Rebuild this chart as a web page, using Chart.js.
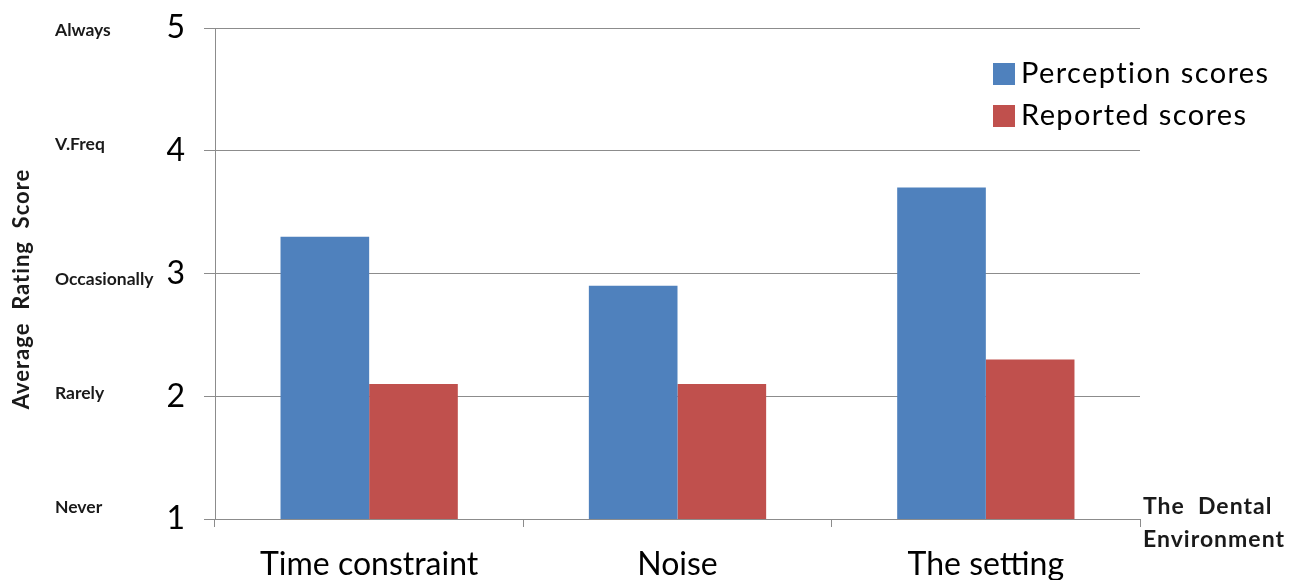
<!DOCTYPE html>
<html>
<head>
<meta charset="utf-8">
<title>The Dental Environment</title>
<script src="https://cdn.jsdelivr.net/npm/chart.js@4/dist/chart.umd.min.js"></script>
<style>
  html, body { margin: 0; padding: 0; background: #fff; }
  #wrap { width: 1303px; height: 580px; position: relative; }
</style>
</head>
<body>
<div id="wrap"><canvas id="c"></canvas></div>
<script>
// Categories and series
const categories = ['Time constraint', 'Noise', 'The setting'];
const perceptionScores = [3.3, 2.9, 3.7];
const reportedScores = [2.1, 2.1, 2.3];

// Rating scale: numeric ticks and their verbal meaning
const ratingTicks = [1, 2, 3, 4, 5];
const ratingWords = ['Never', 'Rarely', 'Occasionally', 'V.Freq', 'Always'];

const yTitle = 'Average  Rating  Score';
const xTitleLines = ['The  Dental', 'Environment'];

const BLUE = '#4F81BD';
const RED = '#C0504D';
const GRID = '#8C8C8C';
const FONT = 'Lato, "Open Sans", "DejaVu Sans", sans-serif';

// Extra labelling: rating words, rotated y title, x title and legend
const annotations = {
  id: 'annotations',
  afterDraw(chart) {
    const ctx = chart.ctx;
    const y = chart.scales.y;
    ctx.save();
    ctx.fillStyle = '#1a1a1a';

    // verbal rating labels beside the numeric ticks
    const nudges = [-12, -3, 6, -6, 2];
    ctx.font = 'bold 17.5px ' + FONT;
    ctx.textAlign = 'left';
    ctx.textBaseline = 'middle';
    ratingTicks.forEach((v, i) => {
      ctx.fillText(ratingWords[i], 55, y.getPixelForValue(v) + nudges[i]);
    });

    // rotated y axis title
    ctx.save();
    ctx.translate(22, 289);
    ctx.rotate(-Math.PI / 2);
    ctx.textAlign = 'center';
    ctx.font = 'bold 22px ' + FONT;
    ctx.letterSpacing = '1px';
    ctx.fillText(yTitle, 0, 0);
    ctx.restore();

    // x axis title to the right of the plot
    ctx.font = 'bold 23px ' + FONT;
    ctx.letterSpacing = '1px';
    ctx.textAlign = 'left';
    ctx.fillText(xTitleLines[0], 1143, 507);
    ctx.fillText(xTitleLines[1], 1143, 540);

    // legend
    ctx.font = '29px ' + FONT;
    ctx.letterSpacing = '1.4px';
    chart.data.datasets.forEach((ds, i) => {
      const cy = 74 + i * 42;
      ctx.fillStyle = ds.backgroundColor;
      ctx.fillRect(993, cy - 11, 22, 22);
      ctx.fillStyle = '#000';
      ctx.fillText(ds.label, 1021, cy);
    });
    ctx.restore();
  }
};

new Chart(document.getElementById('c'), {
  type: 'bar',
  data: {
    labels: categories,
    datasets: [
      { label: 'Perception scores', data: perceptionScores, backgroundColor: BLUE },
      { label: 'Reported scores', data: reportedScores, backgroundColor: RED }
    ]
  },
  options: {
    responsive: true,
    maintainAspectRatio: false,
    animation: false,
    devicePixelRatio: 1,
    layout: { padding: { top: 28, right: 163, left: 0, bottom: 0 } },
    datasets: { bar: { categoryPercentage: 0.575, barPercentage: 1.0 } },
    plugins: { legend: { display: false }, tooltip: { enabled: false } },
    scales: {
      x: {
        grid: { display: true, drawOnChartArea: false, color: GRID, tickLength: 8, offset: true },
        border: { color: GRID },
        ticks: { color: '#000', font: { family: FONT, size: 32 }, padding: 18, maxRotation: 0 },
        afterFit(s) { s.height = 61; s.paddingLeft = 0; s.paddingRight = 0; }
      },
      y: {
        min: 1, max: 5,
        afterBuildTicks(s) { s.ticks = ratingTicks.map(v => ({ value: v })); },
        grid: { color: GRID, tickLength: 11 },
        border: { color: GRID },
        ticks: { color: '#000', font: { family: FONT, size: 32 }, padding: 19 },
        afterFit(s) { s.width = 215; s.paddingTop = 0; s.paddingBottom = 0; }
      }
    }
  },
  plugins: [annotations]
});
</script>
</body>
</html>
